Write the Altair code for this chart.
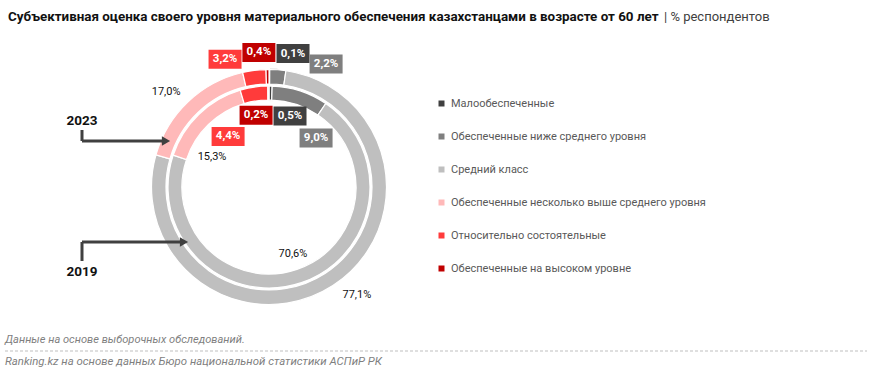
import altair as alt
import pandas as pd

# ---------------- data ----------------
CATEGORIES = [
    "Малообеспеченные",
    "Обеспеченные ниже среднего уровня",
    "Средний класс",
    "Обеспеченные несколько выше среднего уровня",
    "Относительно состоятельные",
    "Обеспеченные на высоком уровне",
]
COLORS = ["#404040", "#7F7F7F", "#BFBFBF", "#FFB9B9", "#FF3B3B", "#C00000"]
VALUES_2023 = [0.1, 2.2, 77.1, 17.0, 3.2, 0.4]   # outer ring
VALUES_2019 = [0.5, 9.0, 70.6, 15.3, 4.4, 0.2]   # inner ring
BOXED = [True, True, False, False, True, True]

# label layout: angle clockwise from 12 o'clock (deg), distance from centre (px)
LABEL_ANGLE_2023 = [10.2, 24.9, 140.8, 312.7, 341.0, 355.7]
LABEL_R_2023 = [135.6, 135.6, 139.0, 140.0, 135.0, 135.0]
LABEL_ANGLE_2019 = [16.5, 43.8, 160.3, 297.8, 321.0, 349.8]
LABEL_R_2019 = [74.0, 68.0, 71.0, 64.4, 65.0, 73.0]

CX, CY = 269, 187
FONT = "Roboto"

rows = []
for year, vals, angs, rads in [
    ("2023", VALUES_2023, LABEL_ANGLE_2023, LABEL_R_2023),
    ("2019", VALUES_2019, LABEL_ANGLE_2019, LABEL_R_2019),
]:
    for i, (c, v) in enumerate(zip(CATEGORIES, vals)):
        rows.append(
            dict(
                year=year,
                category=c,
                value=v,
                order=i,
                label=f"{v:.1f}%".replace(".", ","),
                lang=angs[i],
                lr=rads[i],
                boxed=BOXED[i],
                color=COLORS[i],
            )
        )
df = pd.DataFrame(rows)

legend = alt.Legend(
    orient="none",
    legendX=436,
    legendY=98,
    title=None,
    symbolType="square",
    symbolSize=36,
    symbolStrokeWidth=0,
    labelFontSize=11,
    labelFont=FONT,
    labelColor="#595959",
    labelLimit=400,
    rowPadding=21,
    labelOffset=4,
    padding=0,
)
color_enc = alt.Color(
    "category:N",
    scale=alt.Scale(domain=CATEGORIES, range=COLORS),
    legend=legend,
    sort=CATEGORIES,
)


def ring(year, r_out, r_in):
    return (
        alt.Chart(df)
        .transform_filter(alt.datum.year == year)
        .mark_arc(radius=r_out, radius2=r_in, stroke="white", strokeWidth=1.2)
        .encode(
            theta=alt.Theta("value:Q", stack=True),
            color=color_enc,
            order=alt.Order("order:Q"),
            x=alt.value(CX),
            y=alt.value(CY),
        )
    )


shadow = (
    alt.Chart(pd.DataFrame({"v": [1]}))
    .mark_arc(radius=120, radius2=117, color="#ececec")
    .encode(theta=alt.Theta("v:Q"), x=alt.value(CX + 1), y=alt.value(CY + 1))
)
inner_shadow = (
    alt.Chart(pd.DataFrame({"v": [1]}))
    .mark_arc(radius=88, radius2=85, color="#efefef")
    .encode(theta=alt.Theta("v:Q"), x=alt.value(CX - 1), y=alt.value(CY - 1))
)

lab_base = alt.Chart(df).transform_calculate(
    lx=f"{CX} + datum.lr * sin(datum.lang * PI / 180)",
    ly=f"{CY} - datum.lr * cos(datum.lang * PI / 180)",
)

boxes = (
    lab_base.transform_filter(alt.datum.boxed)
    .transform_calculate(
        bx1="datum.lx - 16.5", bx2="datum.lx + 16.5", by1="datum.ly - 9.5", by2="datum.ly + 9.5"
    )
    .mark_rect()
    .encode(
        x=alt.X("bx1:Q", scale=None, axis=None),
        x2="bx2:Q",
        y=alt.Y("by1:Q", scale=None, axis=None),
        y2="by2:Q",
        color=alt.Color("color:N", scale=None, legend=None),
    )
)
box_text = (
    lab_base.transform_filter(alt.datum.boxed)
    .mark_text(font=FONT, fontSize=11.5, fontWeight="bold", color="white", align="center", baseline="middle")
    .encode(
        x=alt.X("lx:Q", scale=None, axis=None),
        y=alt.Y("ly:Q", scale=None, axis=None),
        text="label:N",
    )
)
plain_text = (
    lab_base.transform_filter(~alt.datum.boxed)
    .mark_text(font=FONT, fontSize=11, color="#111111", align="center", baseline="middle")
    .encode(
        x=alt.X("lx:Q", scale=None, axis=None),
        y=alt.Y("ly:Q", scale=None, axis=None),
        text="label:N",
    )
)

one = pd.DataFrame({"v": [1]})


def rule(x1, y1, x2, y2):
    return (
        alt.Chart(one)
        .mark_rule(color="#404040", strokeWidth=3)
        .encode(x=alt.value(x1), y=alt.value(y1), x2=alt.value(x2), y2=alt.value(y2))
    )


def tri(x, y):
    return (
        alt.Chart(one)
        .mark_point(shape="triangle-right", filled=True, size=90, color="#404040", opacity=1)
        .encode(x=alt.value(x), y=alt.value(y))
    )


def txt(s, x, y, size=11, weight="normal", color="#111111", style="normal", align="left"):
    return (
        alt.Chart(one)
        .mark_text(
            text=s, font=FONT, fontSize=size, fontWeight=weight, color=color,
            fontStyle=style, align=align, baseline="middle",
        )
        .encode(x=alt.value(x), y=alt.value(y))
    )


arrows = [
    rule(82, 130, 82, 141), rule(82, 141, 163, 141), tri(166, 141),
    rule(82, 261, 82, 242), rule(82, 242, 181, 242), tri(184, 242),
    txt("2023", 82, 121, size=13.5, weight="bold", align="center"),
    txt("2019", 82, 272, size=13.5, weight="bold", align="center"),
]

titles = [
    txt(
        "Субъективная оценка своего уровня материального обеспечения казахстанцами в возрасте от 60 лет",
        8, 17, size=13.4, weight="bold",
    ),
    txt("| % респондентов", 664, 17, size=13, color="#404040"),
    txt("Данные на основе выборочных обследований.", 5, 340, size=11.1, color="#7f7f7f", style="italic"),
    txt(
        "Ranking.kz на основе данных Бюро национальной статистики АСПиР РК",
        5, 362, size=11.4, color="#7f7f7f", style="italic",
    ),
    alt.Chart(one)
    .mark_rule(color="#bfbfbf", strokeWidth=1, strokeDash=[3, 2])
    .encode(x=alt.value(5), x2=alt.value(867), y=alt.value(351)),
]

chart = (
    alt.layer(
        shadow, inner_shadow,
        ring("2023", 117.5, 103),
        ring("2019", 101, 87),
        boxes, box_text, plain_text,
        *arrows, *titles,
    )
    .properties(width=872, height=376, padding=0, autosize="none", background="white")
    .configure_view(stroke=None)
)

chart.save("out.html", embed_options={"renderer": "svg", "actions": False})
